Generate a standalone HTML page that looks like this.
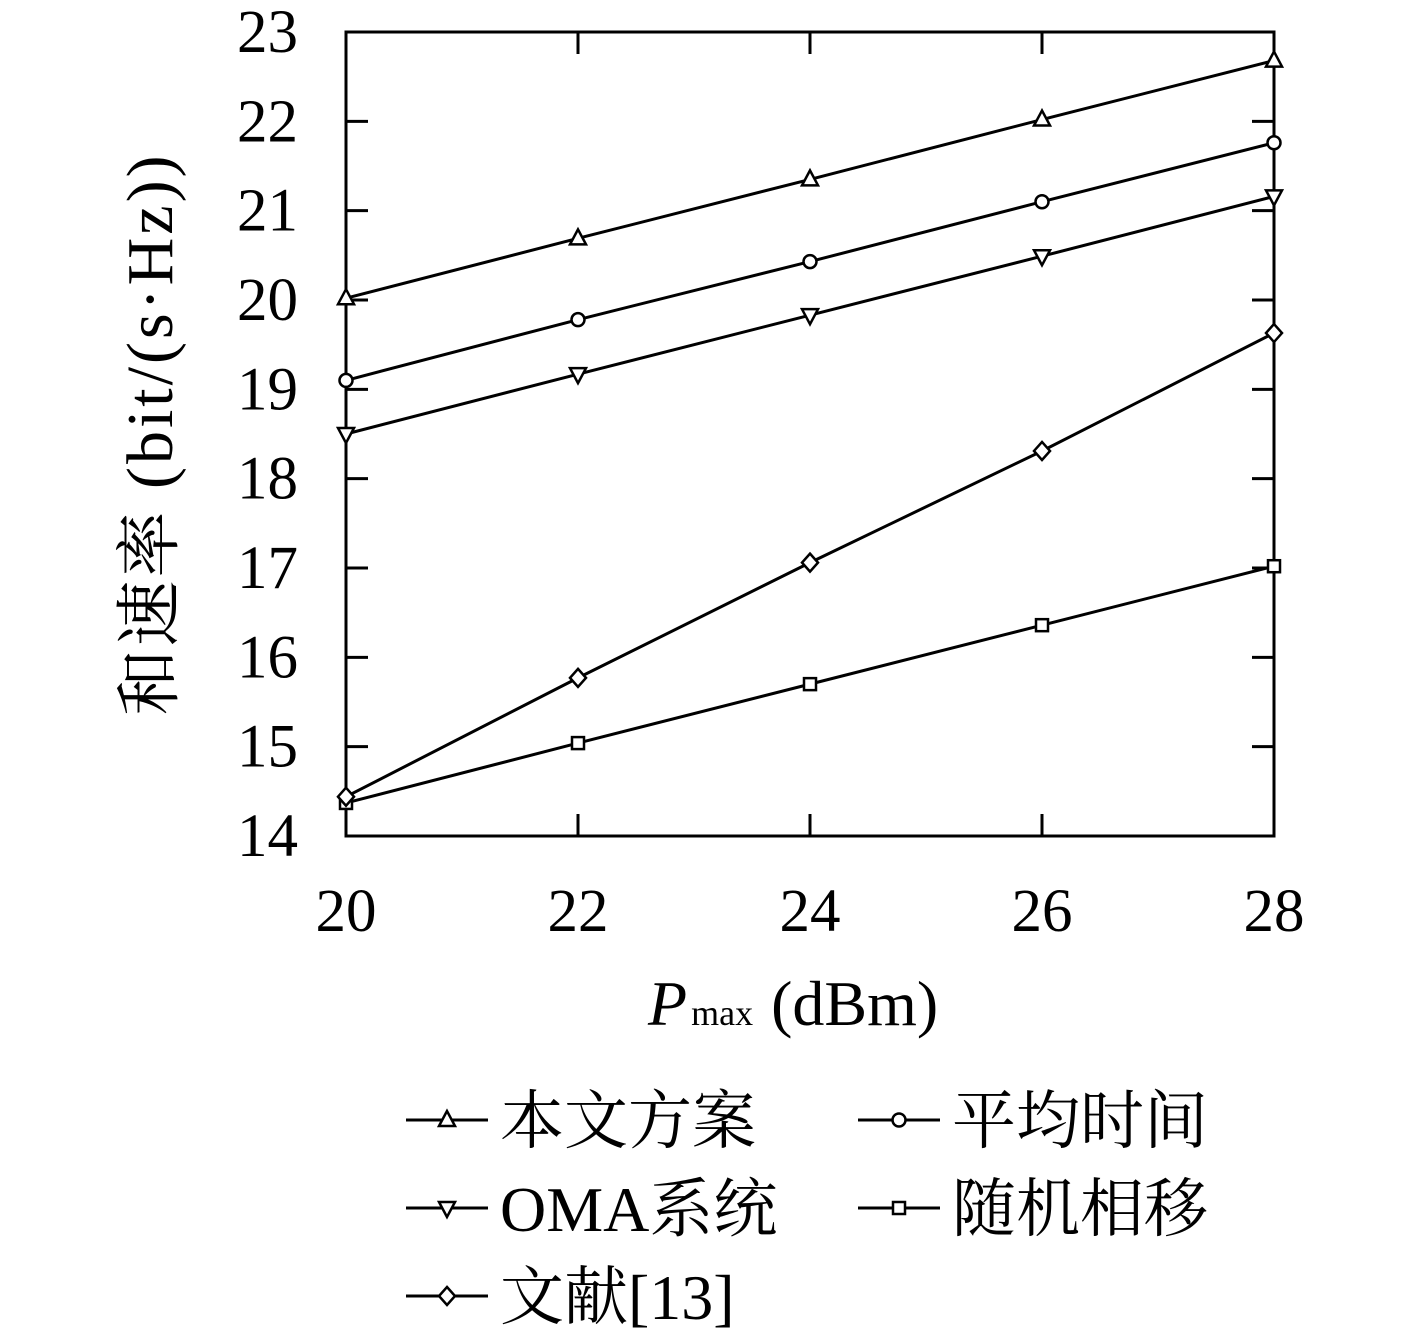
<!DOCTYPE html>
<html><head><meta charset="utf-8">
<style>
html,body{margin:0;padding:0;background:#fff;}
svg{display:block;}
text{font-family:"Liberation Serif","Noto Serif CJK SC","Noto Sans CJK SC",serif;fill:#000;}
</style></head>
<body>
<svg id="chart" width="1417" height="1342" viewBox="0 0 1417 1342" xmlns="http://www.w3.org/2000/svg">
<g id="plot"></g>
</svg>
<script>
const categories = [20, 22, 24, 26, 28];
const seriesNames = ["本文方案", "平均时间", "OMA系统", "随机相移", "文献[13]"];
const proposed = [20.02, 20.69, 21.35, 22.02, 22.68];
const avgTime = [19.10, 19.78, 20.43, 21.10, 21.76];
const oma = [18.50, 19.17, 19.83, 20.49, 21.16];
const ref13 = [14.44, 15.77, 17.06, 18.31, 19.63];
const randomPhase = [14.37, 15.04, 15.70, 16.36, 17.02];
const yTicks = [14, 15, 16, 17, 18, 19, 20, 21, 22, 23];
const xTicks = [20, 22, 24, 26, 28];

const NS = "http://www.w3.org/2000/svg";
const svg = document.getElementById('chart');
const L = 346, R = 1274, T = 32, B = 836;
const xMin = 20, xMax = 28, yMin = 14, yMax = 23;
function xs(v){ return L + (v - xMin) / (xMax - xMin) * (R - L); }
function ys(v){ return B - (v - yMin) / (yMax - yMin) * (B - T); }
function mk(tag, attrs, parent){
  const e = document.createElementNS(NS, tag);
  for (const k in attrs) e.setAttribute(k, attrs[k]);
  (parent || svg).appendChild(e);
  return e;
}
const g = document.getElementById('plot');

const frame = mk('rect', {x:L, y:T, width:R-L, height:B-T, fill:'none', stroke:'#000', 'stroke-width':3}, g);



yTicks.forEach(v => {
  const y = ys(v);
  const t1 = mk('line', {x1:L, y1:y, x2:L+22, y2:y, stroke:'#000', 'stroke-width':3}, g);
  
  
  const t2 = mk('line', {x1:R, y1:y, x2:R-22, y2:y, stroke:'#000', 'stroke-width':3}, g);
  
  
  const lb = mk('text', {x:298, y:y+20, 'text-anchor':'end', 'font-size':61}, g);
  lb.textContent = v;
  
  
});
xTicks.forEach(v => {
  const x = xs(v);
  const t1 = mk('line', {x1:x, y1:B, x2:x, y2:B-22, stroke:'#000', 'stroke-width':3}, g);
  
  
  const t2 = mk('line', {x1:x, y1:T, x2:x, y2:T+22, stroke:'#000', 'stroke-width':3}, g);
  
  
  const lb = mk('text', {x:x, y:931, 'text-anchor':'middle', 'font-size':61}, g);
  lb.textContent = v;
  
  
});

function marker(type, x, y, parent){
  const s = 8;
  let e;
  const st = {fill:'#fff', stroke:'#000', 'stroke-width':2.5};
  if (type === 'up') e = mk('polygon', Object.assign({points:`${x},${y-s-1} ${x-s},${y+s-2} ${x+s},${y+s-2}`}, st), parent);
  else if (type === 'down') e = mk('polygon', Object.assign({points:`${x},${y+s+1} ${x-s},${y-s+2} ${x+s},${y-s+2}`}, st), parent);
  else if (type === 'circle') e = mk('circle', Object.assign({cx:x, cy:y, r:6.5}, st), parent);
  else if (type === 'square') e = mk('rect', Object.assign({x:x-6, y:y-6, width:12, height:12}, st), parent);
  else e = mk('polygon', Object.assign({points:`${x},${y-9} ${x+8},${y} ${x},${y+9} ${x-8},${y}`}, st), parent);
  return e;
}

const series = [
  {name:'proposed', data:proposed, m:'up'},
  {name:'avg-time', data:avgTime, m:'circle'},
  {name:'oma', data:oma, m:'down'},
  {name:'random-phase', data:randomPhase, m:'square'},
  {name:'ref13', data:ref13, m:'diamond'}
];
series.forEach(s => {
  const sg = mk('g', {}, g);
  
  
  const pts = s.data.map((v,i) => xs(categories[i]) + ',' + ys(v)).join(' ');
  const pl = mk('polyline', {points:pts, fill:'none', stroke:'#000', 'stroke-width':3}, sg);
  
  
  s.data.forEach((v,i) => {
    const e = marker(s.m, xs(categories[i]), ys(v), sg);
    
    
  });
});

const yt = mk('text', {x:0, y:0, 'font-size':66, 'text-anchor':'middle', 'letter-spacing':3, transform:'translate(172,434) rotate(-90)'});
yt.textContent = '和速率 (bit/(s·Hz))';


const xt = mk('text', {x:648, y:1025, 'font-size':64});
xt.innerHTML = '<tspan font-style="italic">P</tspan><tspan font-size="36" dx="4">max</tspan><tspan dx="18">(dBm)</tspan>';



const legend = [
  {label:'本文方案', m:'up', x:406, y:1120},
  {label:'平均时间', m:'circle', x:858, y:1120},
  {label:'OMA系统', m:'down', x:406, y:1208},
  {label:'随机相移', m:'square', x:858, y:1208},
  {label:'文献[13]', m:'diamond', x:406, y:1296}
];
legend.forEach(it => {
  const lg = mk('g', {});
  
  
  mk('line', {x1:it.x, y1:it.y, x2:it.x+82, y2:it.y, stroke:'#000', 'stroke-width':3}, lg);
  marker(it.m, it.x+41, it.y, lg);
  const t = mk('text', {x:it.x+94, y:it.y+23, 'font-size':64}, lg);
  t.textContent = it.label;
});
</script>
</body></html>
